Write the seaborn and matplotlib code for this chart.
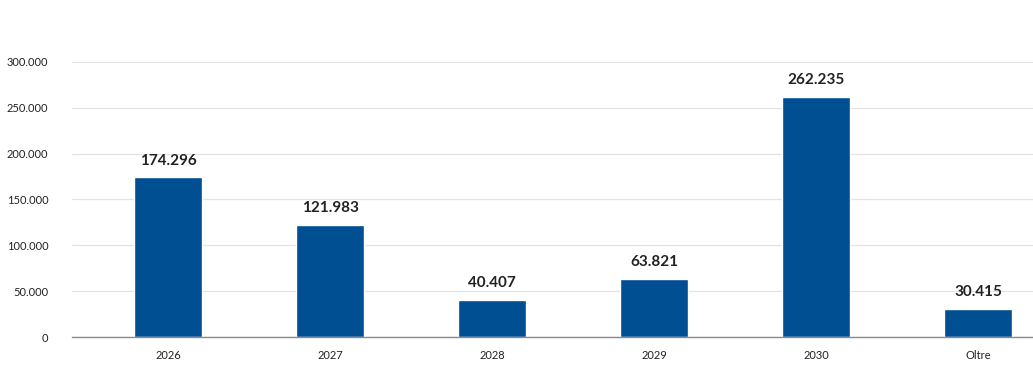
import pandas as pd
import matplotlib.pyplot as plt
import seaborn as sns

# Chart data
years = ["2026", "2027", "2028", "2029", "2030", "Oltre"]
amounts = [174296, 121983, 40407, 63821, 262235, 30415]
value_labels = ["174.296", "121.983", "40.407", "63.821", "262.235", "30.415"]
y_ticks = [0, 50000, 100000, 150000, 200000, 250000, 300000]
y_tick_labels = ["0", "50.000", "100.000", "150.000", "200.000", "250.000", "300.000"]


def main():
    df = pd.DataFrame({"year": years, "amount": amounts})

    sns.set_style("white")
    plt.rcParams["font.family"] = ["Lato", "DejaVu Sans"]

    fig = plt.figure(figsize=(10.33, 3.73), dpi=100)
    ax = fig.add_axes([0.0697, 0.0965, 0.9303, 0.7373])

    sns.barplot(data=df, x="year", y="amount", color="#004f93", width=0.42,
                saturation=1, ax=ax, zorder=3)

    # Value labels over each bar
    for i, (v, lab) in enumerate(zip(amounts, value_labels)):
        ax.annotate(lab, (i, v), xytext=(0, 7), textcoords="offset points",
                    ha="center", va="bottom", fontsize=11, fontweight="bold",
                    color="#222222")

    ax.set_ylim(0, 300000)
    ax.set_xlim(-0.593, 5.34)
    ax.set_yticks(y_ticks)
    ax.set_yticklabels(y_tick_labels)
    ax.set_xlabel("")
    ax.set_ylabel("")

    # Light horizontal gridlines, grey baseline
    ax.grid(axis="y", color="#e3e3e3", linewidth=0.9, zorder=0)
    ax.grid(axis="x", visible=False)
    for s in ["top", "right", "left"]:
        ax.spines[s].set_visible(False)
    ax.spines["bottom"].set_color("#8a8a8a")
    ax.spines["bottom"].set_linewidth(1.0)
    ax.spines["bottom"].set_zorder(4)

    ax.tick_params(axis="y", length=0, pad=17, labelsize=8, labelcolor="#222222")
    ax.tick_params(axis="x", length=0, pad=9, labelsize=8, labelcolor="#222222")

    fig.savefig("out.png", dpi=100)


if __name__ == '__main__':
    main()
